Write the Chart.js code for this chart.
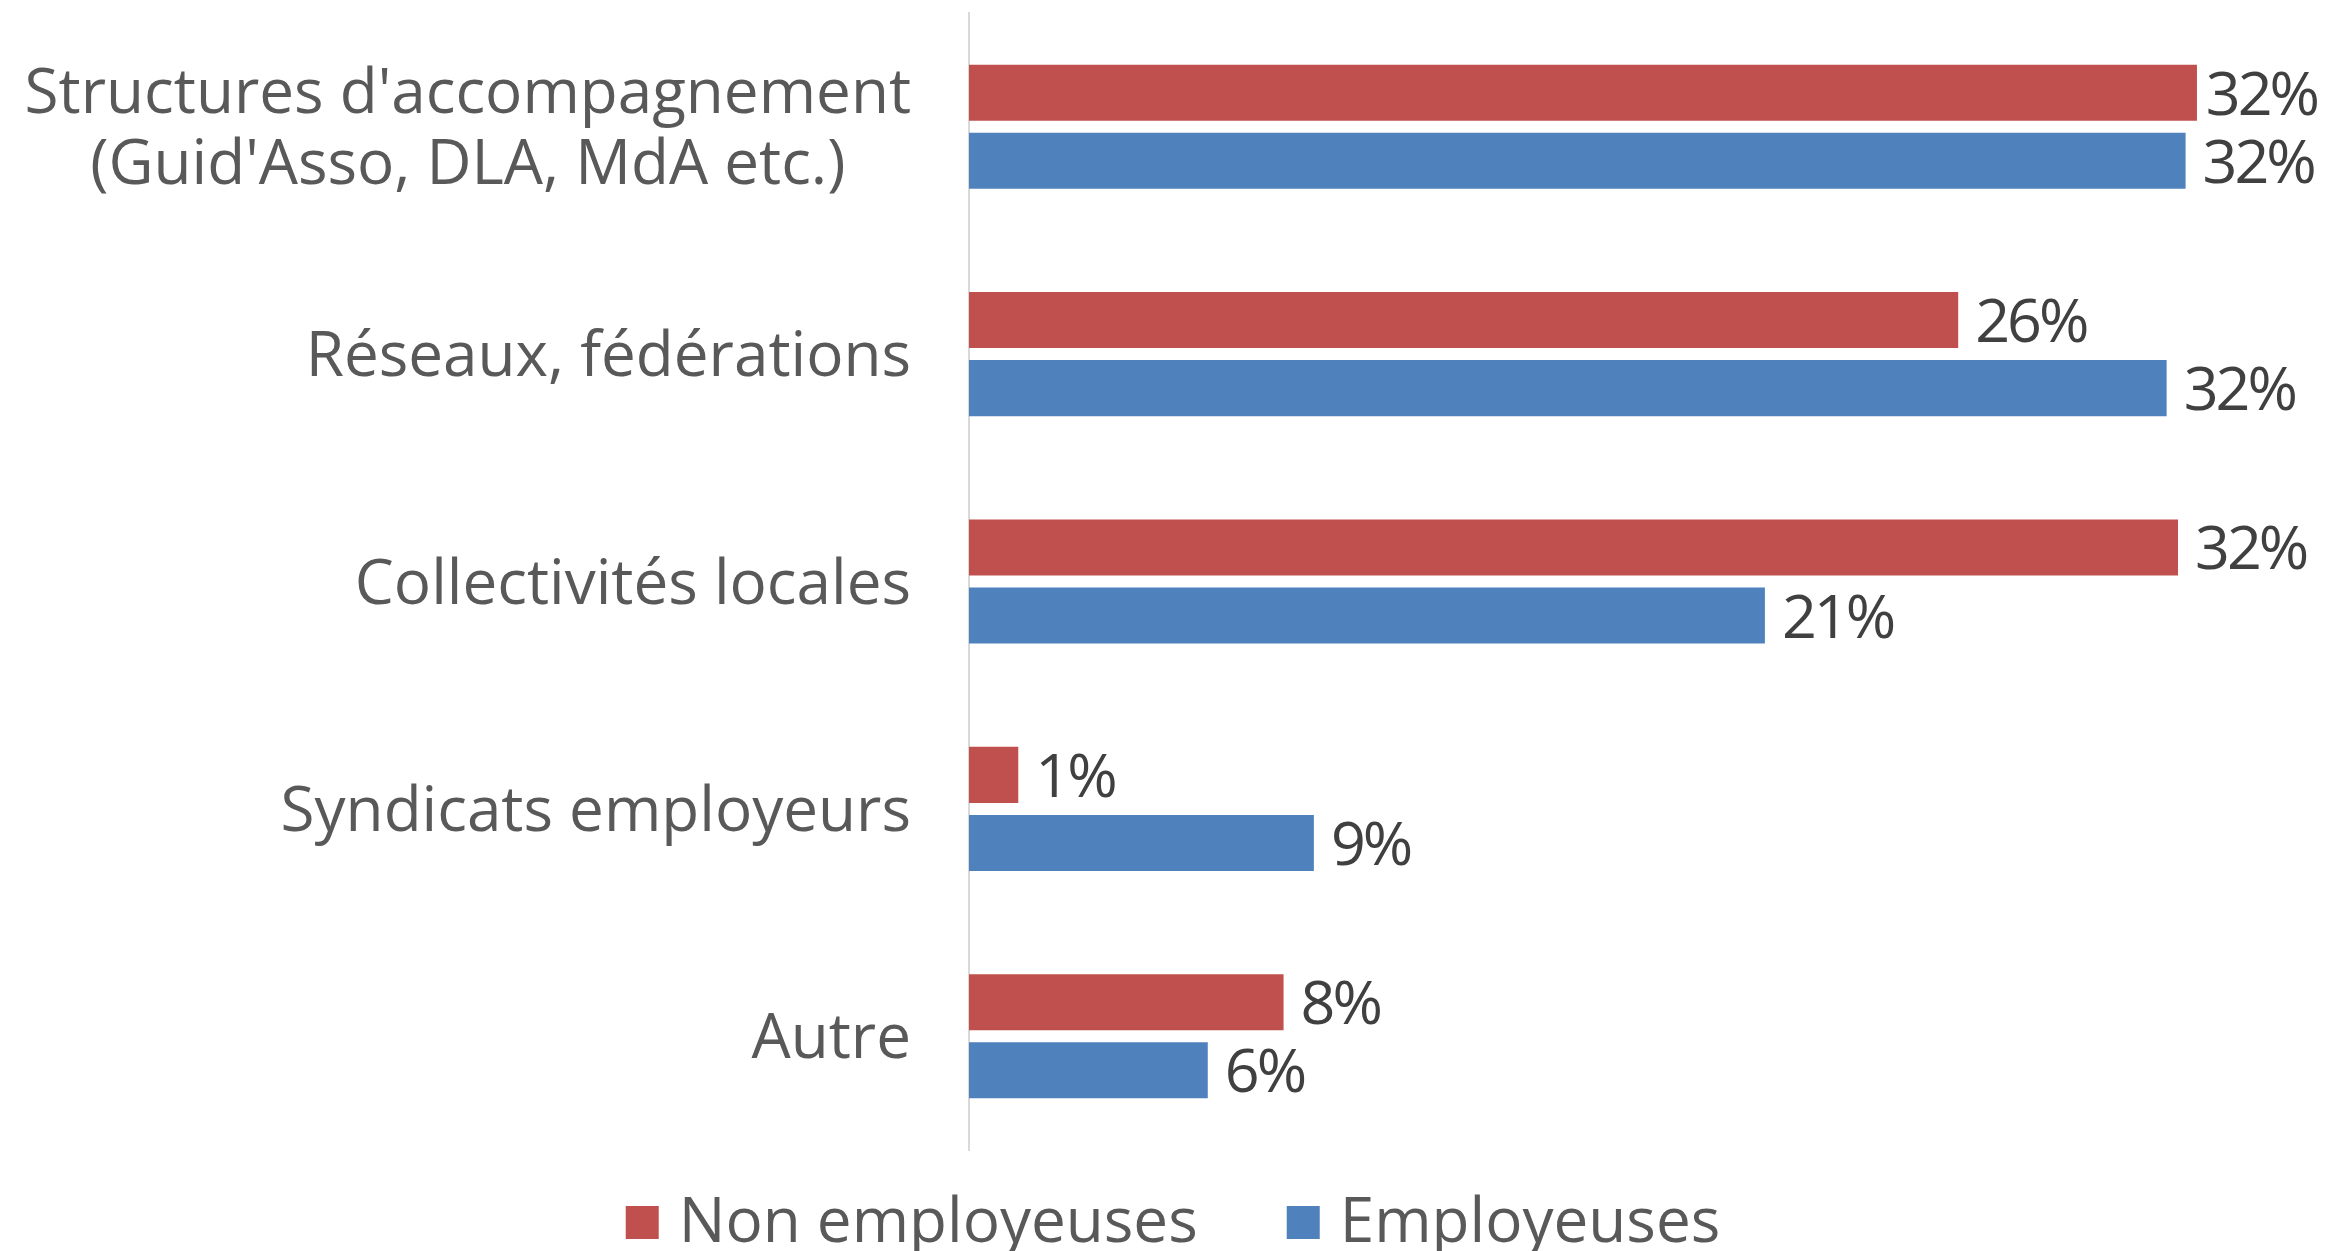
<!DOCTYPE html>
<html>
<head>
<meta charset="utf-8">
<script src="https://cdn.jsdelivr.net/npm/chart.js@4.4.1/dist/chart.umd.min.js"></script>
<style>
  html, body { margin: 0; padding: 0; background: #ffffff; }
  canvas { display: block; }
</style>
</head>
<body>
<canvas id="chart" width="2325" height="1251"></canvas>
<script>
// Categories (one entry per line of the axis label)
const categories = [
    ["Structures d'accompagnement", "(Guid'Asso, DLA, MdA etc.)"],
    ["Réseaux, fédérations"],
    ["Collectivités locales"],
    ["Syndicats employeurs"],
    ["Autre"]
];

// Series (percentages)
const seriesNames = ['Non employeuses', 'Employeuses'];
const nonEmployeuses = [32.4, 26.1, 31.9, 1.3, 8.3];
const employeuses = [32.1, 31.6, 21.0, 9.1, 6.3];
const seriesColors = ['#C0504D', '#4F81BD'];

const FONT_FAMILY = "'Open Sans', 'Noto Sans', sans-serif";
const FONT_SIZE = 62;
const CAP_HALF = 22;          // half the cap height, to centre text on a bar/category
const AXIS_LABEL_COLOR = '#595959';
const VALUE_LABEL_COLOR = '#404040';

function font(size) {
    return (size || FONT_SIZE) + 'px ' + FONT_FAMILY;
}

// Category labels, drawn as centred text blocks right-aligned against the axis
const categoryLabels = {
    id: 'categoryLabels',
    afterDraw(chart) {
        const ctx = chart.ctx;
        const yScale = chart.scales.y;
        const right = chart.chartArea.left - 58;
        const lineHeight = 71;
        ctx.save();
        ctx.font = font();
        ctx.fillStyle = AXIS_LABEL_COLOR;
        ctx.textAlign = 'center';
        ctx.textBaseline = 'alphabetic';
        categories.forEach((lines, i) => {
            const cy = yScale.getPixelForValue(i);
            const blockWidth = Math.max(...lines.map(l => ctx.measureText(l).width));
            const cx = right - blockWidth / 2;
            lines.forEach((line, j) => {
                const y = cy + (j - (lines.length - 1) / 2) * lineHeight + CAP_HALF;
                ctx.fillText(line, cx, y);
            });
        });
        ctx.restore();
    }
};

// Percent labels at the end of each bar, pushed back inside the canvas when too long
const valueLabels = {
    id: 'valueLabels',
    afterDatasetsDraw(chart) {
        const ctx = chart.ctx;
        const maxRight = chart.width - 8;
        ctx.save();
        ctx.font = font(61);
        if ('letterSpacing' in ctx) ctx.letterSpacing = '-3px';
        ctx.fillStyle = VALUE_LABEL_COLOR;
        ctx.textAlign = 'left';
        ctx.textBaseline = 'alphabetic';
        chart.data.datasets.forEach((ds, di) => {
            chart.getDatasetMeta(di).data.forEach((bar, i) => {
                const text = Math.round(ds.data[i]) + '%';
                const w = ctx.measureText(text).width;
                let x = bar.x + 17;
                if (x + w > maxRight) x = maxRight - w;
                ctx.fillText(text, x, bar.y + CAP_HALF);
            });
        });
        ctx.restore();
    }
};

// Legend row below the plot
const bottomLegend = {
    id: 'bottomLegend',
    afterDraw(chart) {
        const ctx = chart.ctx;
        const box = 33;
        const boxGap = 20;
        const itemGap = 89;
        const centerX = 1173;
        const baseline = 1242;
        ctx.save();
        ctx.font = font();
        ctx.textAlign = 'left';
        ctx.textBaseline = 'alphabetic';
        const widths = chart.data.datasets.map(ds => ctx.measureText(ds.label).width);
        const total = widths.reduce((a, w) => a + box + boxGap + w, 0) + itemGap * (widths.length - 1);
        let x = centerX - total / 2;
        chart.data.datasets.forEach((ds, i) => {
            ctx.fillStyle = ds.backgroundColor;
            ctx.fillRect(x, baseline - 36, box, box);
            x += box + boxGap;
            ctx.fillStyle = AXIS_LABEL_COLOR;
            ctx.fillText(ds.label, x, baseline);
            x += widths[i] + itemGap;
        });
        ctx.restore();
    }
};

const ctx = document.getElementById('chart').getContext('2d');
const chart = new Chart(ctx, {
    type: 'bar',
    data: {
        labels: categories.map(c => c.join(' ')),
        datasets: [
            {
                label: seriesNames[0],
                data: nonEmployeuses,
                backgroundColor: seriesColors[0]
            },
            {
                label: seriesNames[1],
                data: employeuses,
                backgroundColor: seriesColors[1]
            }
        ]
    },
    options: {
        indexAxis: 'y',
        responsive: false,
        animation: false,
        devicePixelRatio: 1,
        barPercentage: 0.8235,
        categoryPercentage: 0.5985,
        layout: {
            padding: { top: 13, bottom: 101, left: 0, right: 29.5 }
        },
        scales: {
            x: {
                display: false,
                min: 0,
                max: 35
            },
            y: {
                grid: { display: false },
                border: { display: true, color: '#D9D9D9', width: 2 },
                ticks: { display: false },
                afterFit(scale) {
                    scale.width = 969;
                }
            }
        },
        plugins: {
            legend: { display: false },
            tooltip: { enabled: false }
        }
    },
    plugins: [categoryLabels, valueLabels, bottomLegend]
});
</script>
</body>
</html>
